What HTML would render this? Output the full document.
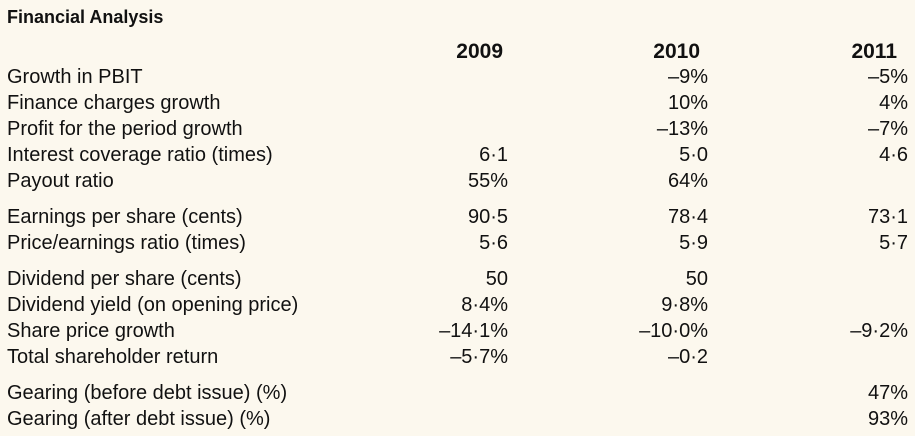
<!DOCTYPE html>
<html><head><meta charset="utf-8"><style>
body{margin:0;width:915px;height:436px;background:#fcf8ee;font-family:"Liberation Sans",sans-serif;color:#111;overflow:hidden;position:relative}
.r{position:absolute;left:0;width:915px;height:26px;line-height:26px;font-size:20px}
.r span{position:absolute;white-space:nowrap}
.l{left:7px}
.a{right:407px}.b{right:207px}.c{right:7px}
.h .a{right:412px}.h .b{right:215px}.h .c{right:18px}
</style></head><body>
<div class="r" style="top:4px;font-weight:bold;font-size:18px"><span class="l">Financial Analysis</span></div>
<div class="r h" style="top:39px;font-weight:bold;font-size:21px"><span class="a">2009</span><span class="b">2010</span><span class="c">2011</span></div>
<div class="r" style="top:64px"><span class="l">Growth in PBIT</span><span class="b">–9%</span><span class="c">–5%</span></div>
<div class="r" style="top:90px"><span class="l">Finance charges growth</span><span class="b">10%</span><span class="c">4%</span></div>
<div class="r" style="top:116px"><span class="l">Profit for the period growth</span><span class="b">–13%</span><span class="c">–7%</span></div>
<div class="r" style="top:142px"><span class="l">Interest coverage ratio (times)</span><span class="a">6·1</span><span class="b">5·0</span><span class="c">4·6</span></div>
<div class="r" style="top:168px"><span class="l">Payout ratio</span><span class="a">55%</span><span class="b">64%</span></div>
<div class="r" style="top:204px"><span class="l">Earnings per share (cents)</span><span class="a">90·5</span><span class="b">78·4</span><span class="c">73·1</span></div>
<div class="r" style="top:230px"><span class="l">Price/earnings ratio (times)</span><span class="a">5·6</span><span class="b">5·9</span><span class="c">5·7</span></div>
<div class="r" style="top:266px"><span class="l">Dividend per share (cents)</span><span class="a">50</span><span class="b">50</span></div>
<div class="r" style="top:292px"><span class="l">Dividend yield (on opening price)</span><span class="a">8·4%</span><span class="b">9·8%</span></div>
<div class="r" style="top:318px"><span class="l">Share price growth</span><span class="a">–14·1%</span><span class="b">–10·0%</span><span class="c">–9·2%</span></div>
<div class="r" style="top:344px"><span class="l">Total shareholder return</span><span class="a">–5·7%</span><span class="b">–0·2</span></div>
<div class="r" style="top:380px"><span class="l">Gearing (before debt issue) (%)</span><span class="c">47%</span></div>
<div class="r" style="top:406px"><span class="l">Gearing (after debt issue) (%)</span><span class="c">93%</span></div>
</body></html>
